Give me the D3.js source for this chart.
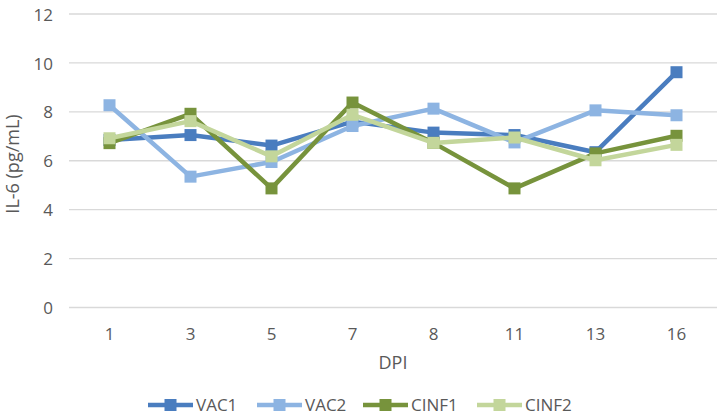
<!DOCTYPE html>
<html><head><meta charset="utf-8">
<script src="https://d3js.org/d3.v7.min.js"></script>
<style>body{margin:0;background:#fff}svg{display:block}text{font-family:"Open Sans","Liberation Sans",sans-serif;fill:#595959}</style>
</head><body><div id="chart"></div>
<script>
const categories = ["1","3","5","7","8","11","13","16"];
const seriesNames = ["VAC1","VAC2","CINF1","CINF2"];
const vac1 = [6.85,7.05,6.62,7.6,7.15,7.05,6.35,9.62];
const vac2 = [8.27,5.35,5.95,7.42,8.13,6.75,8.06,7.86];
const cinf1 = [6.72,7.92,4.87,8.38,6.73,4.87,6.3,7.02];
const cinf2 = [6.92,7.62,6.18,7.88,6.73,6.95,6.02,6.65];
const yTicks = [0,2,4,6,8,10,12];
const colors = ["#4a7dbf","#8db4e2","#77933c","#c3d69b"];
const seriesData = [vac1,vac2,cinf1,cinf2];

const W=722,H=419;
const svg=d3.select("#chart").append("svg").attr("width",W).attr("height",H);
const x=d3.scaleBand().domain(categories).range([69,717]);
const y=d3.scaleLinear().domain([0,12]).range([307.5,14]);

const grid=svg.append("g");
grid.selectAll("line").data(yTicks).join("line")
  .attr("x1",69).attr("x2",717).attr("y1",d=>y(d)).attr("y2",d=>y(d))
  .attr("stroke","#d9d9d9").attr("stroke-width",1.3);

const yAxis=svg.append("g").attr("transform","translate(53,0)")
  .call(d3.axisLeft(y).tickValues(yTicks).tickSize(0).tickPadding(0));
yAxis.select(".domain").remove();
yAxis.selectAll("text").style("font-size","17px").attr("fill","#595959").attr("dy","0.36em");

const xAxis=svg.append("g").attr("transform","translate(0,334)")
  .call(d3.axisBottom(x).tickSize(0).tickPadding(0));
xAxis.select(".domain").remove();
xAxis.selectAll("text").style("font-size","17px").attr("fill","#595959").attr("y",0).attr("dy","0.36em");

svg.append("text").attr("x",393).attr("y",363).attr("dy","0.36em").attr("text-anchor","middle").style("font-size","18px").text("DPI");
svg.append("text").attr("transform","translate(13,164) rotate(-90)").attr("dy","0.36em").attr("text-anchor","middle").style("font-size","18px").text("IL-6 (pg/mL)");

const line=d3.line().x((d,i)=>x(categories[i])+x.bandwidth()/2).y(d=>y(d));
seriesData.forEach((s,k)=>{
  const g=svg.append("g");
  g.append("path").attr("d",line(s)).attr("fill","none").attr("stroke",colors[k]).attr("stroke-width",4.5).attr("stroke-linejoin","round");
  g.selectAll("rect").data(s).join("rect")
    .attr("x",(d,i)=>x(categories[i])+x.bandwidth()/2-6).attr("y",d=>y(d)-6)
    .attr("width",12).attr("height",12).attr("fill",colors[k]);
});

const legX=[148,257,363,477];
const leg=svg.append("g");
seriesNames.forEach((n,k)=>{
  const g=leg.append("g").attr("transform",`translate(${legX[k]},405)`);
  g.append("line").attr("x1",0).attr("x2",45).attr("stroke",colors[k]).attr("stroke-width",4.5);
  g.append("rect").attr("x",16.5).attr("y",-6).attr("width",12).attr("height",12).attr("fill",colors[k]);
  g.append("text").attr("x",48).attr("y",0).attr("dy","0.36em").style("font-size","17px").text(n);
});
</script></body></html>
